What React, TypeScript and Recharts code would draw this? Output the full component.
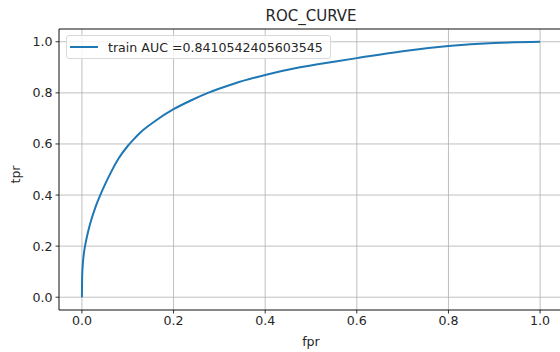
import React from 'react'
import { LineChart, Line, XAxis, YAxis, CartesianGrid, Legend, ReferenceLine } from 'recharts'

const fpr = [0, 0.0005, 0.002, 0.005, 0.009, 0.014, 0.02, 0.03, 0.04, 0.05, 0.06, 0.08, 0.1, 0.113, 0.127, 0.16, 0.2, 0.24, 0.275, 0.33, 0.4, 0.476, 0.55, 0.6, 0.7, 0.8, 0.9, 1.0]
const tpr = [0, 0.08, 0.13, 0.18, 0.22, 0.26, 0.3, 0.355, 0.4, 0.44, 0.477, 0.543, 0.592, 0.618, 0.644, 0.69, 0.736, 0.772, 0.8, 0.835, 0.87, 0.9, 0.922, 0.936, 0.963, 0.983, 0.995, 1.0]
const ticks = [0, 0.2, 0.4, 0.6, 0.8, 1.0]
const legendLabel = 'train AUC =0.8410542405603545'

const rocData = fpr.map((x, i) => ({ fpr: x, tpr: tpr[i] }))

const font = '"DejaVu Sans", sans-serif'
const tickStyle = { fontSize: 12.6, fill: '#262626', fontFamily: font }

const LegendBox = () => (
  <div
    style={{
      position: 'absolute',
      left: 66,
      top: 35,
      height: 22,
      width: 263,
      boxSizing: 'content-box',
      border: '1px solid #d9d9d9',
      borderRadius: 3,
      background: 'rgba(255,255,255,0.8)',
      display: 'flex',
      alignItems: 'center',
      fontFamily: font,
      fontSize: 12.6,
      color: '#262626',
      whiteSpace: 'nowrap',
    }}
  >
    <span style={{ display: 'inline-block', width: 28, height: 2, background: '#1f77b4', marginLeft: 3, marginRight: 10 }} />
    {legendLabel}
  </div>
)

export default function App() {
  return (
    <div style={{ position: 'absolute', left: 0, top: 0, width: 560, height: 352, overflow: 'hidden', background: '#fff' }}>
      <div style={{ position: 'absolute', left: 59, width: 504, top: 7, textAlign: 'center', fontFamily: font, fontSize: 15, color: '#262626' }}>
        ROC_CURVE
      </div>
      <div style={{ position: 'absolute', left: 296, width: 30, top: 334, textAlign: 'center', fontFamily: font, fontSize: 12.6, color: '#262626' }}>
        fpr
      </div>
      <div style={{ position: 'absolute', left: 0, top: 167, width: 30, textAlign: 'center', transform: 'rotate(-90deg)', fontFamily: font, fontSize: 12.6, color: '#262626' }}>
        tpr
      </div>
      <LineChart width={564} height={352} data={rocData} margin={{ top: 29, right: 1, left: 0, bottom: 0 }}>
        <CartesianGrid stroke="#b0b0b0" strokeWidth={0.8} />
        <XAxis
          dataKey="fpr"
          type="number"
          domain={[-0.05, 1.05]}
          ticks={ticks}
          allowDataOverflow
          height={42}
          tickFormatter={(v: number) => v.toFixed(1)}
          tick={tickStyle}
          tickSize={3.5}
          tickMargin={3}
          stroke="#000"
          strokeWidth={0.8}
        />
        <YAxis
          type="number"
          domain={[-0.05, 1.05]}
          ticks={ticks}
          allowDataOverflow
          width={59}
          tickFormatter={(v: number) => v.toFixed(1)}
          tick={tickStyle}
          tickSize={3.5}
          tickMargin={3}
          stroke="#000"
          strokeWidth={0.8}
        />
        <ReferenceLine y={1.05} stroke="#000" strokeWidth={0.8} />
        <ReferenceLine x={1.05} stroke="#000" strokeWidth={0.8} />
        <Legend content={() => null} />
        <Line
          type="monotone"
          dataKey="tpr"
          stroke="#1f77b4"
          strokeWidth={2}
          dot={false}
          isAnimationActive={false}
        />
      </LineChart>
      <LegendBox />
    </div>
  )
}
